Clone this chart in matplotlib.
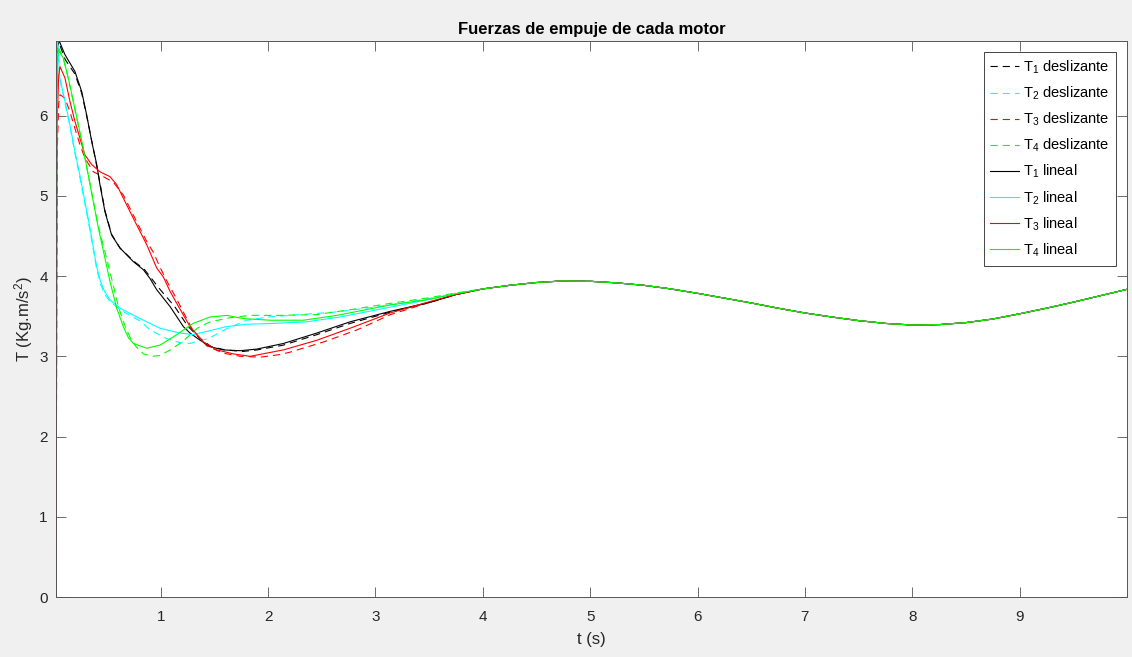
import matplotlib
matplotlib.use("Agg")
import matplotlib.pyplot as plt

plt.rcParams['font.family'] = ['Liberation Sans', 'DejaVu Sans']
plt.rcParams['mathtext.fontset'] = 'custom'
plt.rcParams['mathtext.rm'] = 'Liberation Sans'
plt.rcParams['mathtext.it'] = 'Liberation Sans'
plt.rcParams['mathtext.default'] = 'regular'

# Shared response once all four motors settle (t >= 4 s)
t_tail = [4.0, 4.25, 4.5, 4.75, 5.0, 5.25, 5.5, 5.75, 6.0, 6.25, 6.5, 6.75,
          7.0, 7.25, 7.5, 7.75, 8.0, 8.25, 8.5, 8.75, 9.0, 9.25, 9.5, 9.75, 10.0]
T_tail = [3.84, 3.885, 3.92, 3.94, 3.935, 3.915, 3.885, 3.84, 3.785, 3.725, 3.665, 3.60,
          3.54, 3.49, 3.445, 3.41, 3.39, 3.395, 3.42, 3.465, 3.53, 3.60, 3.675, 3.755, 3.835]

# Sliding-mode controller (deslizante), transient part
t1_d = [0.025, 0.06, 0.11, 0.2, 0.264, 0.31, 0.36, 0.40, 0.434, 0.48, 0.543, 0.62, 0.745,
        0.85, 0.99, 1.13, 1.25, 1.36, 1.47, 1.60, 1.76, 1.90, 2.143, 2.454, 2.764, 3.137, 3.5, 3.75]
T1_d = [6.75, 6.88, 6.70, 6.52, 6.28, 6.00, 5.67, 5.40, 5.16, 4.82, 4.52, 4.35, 4.19,
        4.08, 3.84, 3.62, 3.38, 3.23, 3.12, 3.08, 3.06, 3.08, 3.14, 3.27, 3.41, 3.55, 3.67, 3.77]

t2_d = [0.025, 0.04, 0.06, 0.108, 0.154, 0.201, 0.247, 0.294, 0.341, 0.403, 0.44, 0.48,
        0.53, 0.621, 0.808, 0.90, 1.056, 1.18, 1.27, 1.44, 1.61, 1.80, 2.0, 2.30, 2.61,
        2.92, 3.23, 3.5, 3.75]
T2_d = [6.75, 6.90, 6.45, 6.16, 5.87, 5.53, 5.23, 4.90, 4.57, 4.09, 3.90, 3.77,
        3.68, 3.58, 3.44, 3.33, 3.22, 3.17, 3.16, 3.22, 3.34, 3.45, 3.49, 3.52, 3.55,
        3.60, 3.66, 3.72, 3.78]

t3_d = [0.025, 0.035, 0.05, 0.062, 0.108, 0.154, 0.201, 0.247, 0.294, 0.372, 0.465, 0.559,
        0.652, 0.745, 0.87, 0.93, 0.99, 1.06, 1.15, 1.30, 1.43, 1.58, 1.74, 1.93, 2.10,
        2.20, 2.52, 2.83, 3.14, 3.5, 3.75]
T3_d = [0.0, 5.5, 6.15, 6.26, 6.22, 6.05, 5.84, 5.64, 5.47, 5.30, 5.24, 5.17,
        5.01, 4.76, 4.43, 4.30, 4.12, 3.93, 3.71, 3.32, 3.13, 3.04, 3.00, 2.99, 3.02,
        3.05, 3.18, 3.33, 3.52, 3.67, 3.77]

t4_d = [0.025, 0.04, 0.05, 0.092, 0.139, 0.186, 0.232, 0.279, 0.325, 0.372, 0.419, 0.50,
        0.55, 0.61, 0.67, 0.72, 0.77, 0.84, 0.92, 0.99, 1.09, 1.21, 1.34, 1.46, 1.64, 1.83,
        2.1, 2.45, 2.76, 3.14, 3.5, 3.75]
T4_d = [4.55, 6.75, 6.84, 6.72, 6.46, 6.17, 5.88, 5.58, 5.26, 4.94, 4.62, 4.20,
        3.93, 3.60, 3.37, 3.22, 3.12, 3.03, 3.00, 3.01, 3.08, 3.19, 3.35, 3.43, 3.48, 3.51,
        3.51, 3.52, 3.58, 3.66, 3.73, 3.79]

# Linear controller (lineal), transient part
t1_l = [0.025, 0.055, 0.108, 0.201, 0.264, 0.310, 0.357, 0.404, 0.434, 0.481, 0.543, 0.621,
        0.745, 0.838, 0.900, 0.963, 1.087, 1.211, 1.273, 1.336, 1.459, 1.583, 1.739, 1.895,
        2.143, 2.454, 2.764, 3.137, 3.5, 3.75]
T1_l = [6.80, 6.93, 6.76, 6.55, 6.30, 6.01, 5.68, 5.39, 5.14, 4.80, 4.51, 4.35,
        4.18, 4.08, 3.97, 3.83, 3.62, 3.37, 3.29, 3.23, 3.12, 3.08, 3.07, 3.09,
        3.16, 3.29, 3.43, 3.56, 3.67, 3.77]

t2_l = [0.025, 0.04, 0.061, 0.108, 0.154, 0.201, 0.247, 0.294, 0.341, 0.403, 0.44, 0.48,
        0.53, 0.621, 0.808, 0.994, 1.18, 1.30, 1.43, 1.61, 1.80, 2.05, 2.36, 2.67, 2.86,
        3.24, 3.5, 3.75]
T2_l = [6.80, 6.92, 6.47, 6.18, 5.89, 5.55, 5.26, 4.93, 4.60, 4.12, 3.93, 3.80,
        3.70, 3.60, 3.47, 3.35, 3.29, 3.27, 3.31, 3.37, 3.40, 3.41, 3.43, 3.49, 3.54,
        3.64, 3.71, 3.78]

t3_l = [0.025, 0.035, 0.05, 0.062, 0.108, 0.154, 0.201, 0.247, 0.294, 0.357, 0.434, 0.527,
        0.59, 0.652, 0.745, 0.87, 0.963, 1.024, 1.087, 1.149, 1.273, 1.397, 1.522, 1.677,
        1.833, 2.143, 2.454, 2.764, 3.137, 3.5, 3.75]
T3_l = [0.0, 5.9, 6.5, 6.61, 6.47, 6.18, 5.93, 5.72, 5.51, 5.39, 5.30, 5.24,
        5.14, 4.97, 4.72, 4.39, 4.10, 3.99, 3.81, 3.66, 3.37, 3.18, 3.08, 3.03,
        3.00, 3.08, 3.20, 3.35, 3.54, 3.68, 3.77]

t4_l = [0.025, 0.04, 0.045, 0.092, 0.139, 0.186, 0.232, 0.279, 0.325, 0.372, 0.419, 0.481,
        0.528, 0.59, 0.652, 0.70, 0.745, 0.87, 0.994, 1.15, 1.30, 1.46, 1.615, 1.77, 2.02,
        2.33, 2.64, 3.137, 3.5, 3.75]
T4_l = [4.55, 6.75, 6.82, 6.72, 6.47, 6.18, 5.89, 5.59, 5.26, 4.93, 4.60, 4.22,
        3.93, 3.60, 3.37, 3.23, 3.16, 3.10, 3.14, 3.27, 3.41, 3.49, 3.51, 3.47, 3.45,
        3.45, 3.51, 3.64, 3.71, 3.78]

labels_d = [r"T$_1$ deslizante", r"T$_2$ deslizante", r"T$_3$ deslizante", r"T$_4$ deslizante"]
labels_l = [r"T$_1$ lineal", r"T$_2$ lineal", r"T$_3$ lineal", r"T$_4$ lineal"]
colors = ['#000000', '#00ffff', '#ff0000', '#00ff00']

fig = plt.figure(figsize=(11.32, 6.57), dpi=100, facecolor='#f0f0f0')
ax = fig.add_axes([0.0495, 0.0913, 0.9461, 0.8463])
ax.set_facecolor('white')

series_d = [(t1_d, T1_d), (t2_d, T2_d), (t3_d, T3_d), (t4_d, T4_d)]
series_l = [(t1_l, T1_l), (t2_l, T2_l), (t3_l, T3_l), (t4_l, T4_l)]

for (t, T), c, lab in zip(series_d, colors, labels_d):
    ax.plot(list(t) + t_tail, list(T) + T_tail, color=c, lw=0.8,
            dashes=(6.5, 4.5), label=lab)
for (t, T), c, lab in zip(series_l, colors, labels_l):
    ax.plot(list(t) + t_tail, list(T) + T_tail, color=c, lw=0.8, label=lab)

ax.set_xlim(0.025, 10.0)
ax.set_ylim(0, 6.93)
ax.set_xticks(range(1, 10))
ax.set_yticks(range(0, 7))

axis_col = '#262626'
for s in ax.spines.values():
    s.set_color('#555555')
    s.set_linewidth(0.7)
ax.tick_params(direction='in', length=7, width=0.6, colors='#555555',
               labelcolor=axis_col, labelsize=11, top=True, right=True)
ax.tick_params(axis='x', pad=9)
ax.tick_params(axis='y', pad=6)

ax.set_title("Fuerzas de empuje de cada motor", fontsize=12, fontweight='bold',
             color='black', pad=5)
ax.set_xlabel("t (s)", fontsize=12, color=axis_col, labelpad=6)
ax.set_ylabel(r"T (Kg.m/s$^2$)", fontsize=12, color=axis_col, labelpad=3)

leg = ax.legend(loc='upper right', fontsize=10.5, frameon=True, fancybox=False,
                edgecolor='#262626', framealpha=1, handlelength=2.0,
                handletextpad=0.25, labelspacing=0.6, borderpad=0.45,
                borderaxespad=0.75)
leg.get_frame().set_linewidth(0.6)

fig.savefig("out.png", dpi=100, facecolor=fig.get_facecolor())
